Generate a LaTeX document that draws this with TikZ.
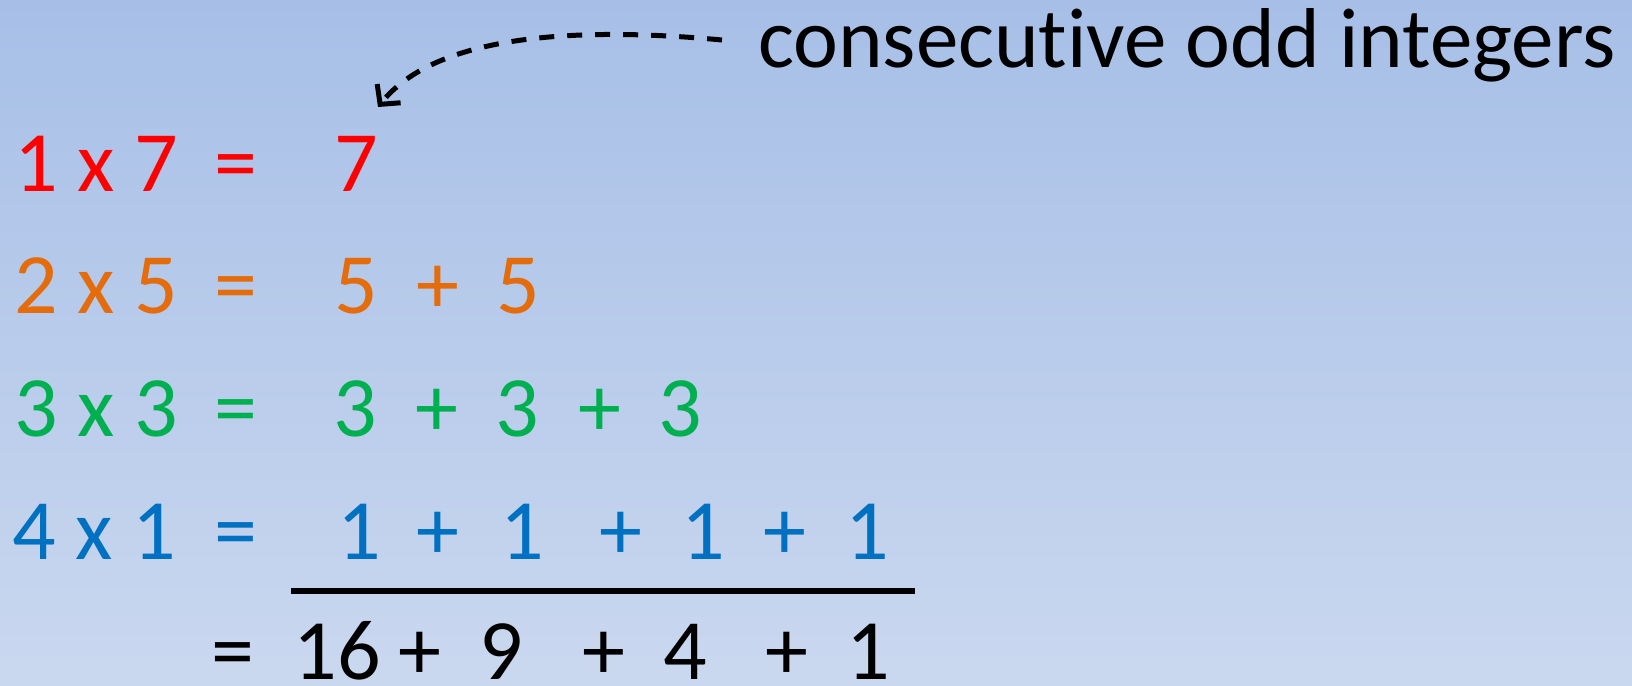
\documentclass[tikz,border=0pt]{standalone}
\usepackage{fontspec}
\setmainfont{Carlito}[Ligatures=NoCommon]
\usepackage{tikz}
\usetikzlibrary{arrows.meta}
\definecolor{rowred}{RGB}{255,0,0}
\definecolor{roworange}{RGB}{228,108,10}
\definecolor{rowgreen}{RGB}{0,176,80}
\definecolor{rowblue}{RGB}{0,112,192}
\definecolor{slidetop}{RGB}{167,191,231}
\definecolor{slidebottom}{RGB}{202,216,239}
\tikzstyle{term} = [inner sep=0pt, anchor=base, font=\fontsize{43}{50}\selectfont]
\tikzstyle{note} = [inner sep=0pt, anchor=base east, font=\fontsize{42.5}{50}\selectfont]
\tikzstyle{arrow} = [line width=2.5pt, dash pattern=on 7.5pt off 6.5pt, -{Straight Barb[length=7pt,width=15pt]}]
\tikzstyle{sumline} = [line width=3.2pt]

\begin{document}
\begin{tikzpicture}[x=0.5pt, y=-0.5pt]
\shade[top color=slidetop, bottom color=slidebottom] (0,0) rectangle (1632,685);
\useasboundingbox (0,0) rectangle (1632,685);
% label and arrow
\node (label) [note] at (1616,67) {consecutive odd integers};
\coordinate (arrowstart) at (722,40);
\coordinate (arrowend) at (378,107);
\draw [arrow] (arrowstart) .. controls (550,24) and (430,42) .. (arrowend);
% row 1
\node (lhsa) [term, rowred] at (96,191) {1 x 7};
\node (eqa) [term, rowred] at (236,191) {=};
\node (a1) [term, rowred] at (356,191) {7};
% row 2
\node (lhsb) [term, roworange] at (96,313) {2 x 5};
\node (eqb) [term, roworange] at (236,313) {=};
\node (b1) [term, roworange] at (356,313) {5};
\node (bp1) [term, roworange] at (438,313) {+};
\node (b2) [term, roworange] at (518,313) {5};
% row 3
\node (lhsc) [term, rowgreen] at (96,436) {3 x 3};
\node (eqc) [term, rowgreen] at (236,436) {=};
\node (c1) [term, rowgreen] at (355,436) {3};
\node (cp1) [term, rowgreen] at (437,436) {+};
\node (c2) [term, rowgreen] at (517,436) {3};
\node (cp2) [term, rowgreen] at (600,436) {+};
\node (c3) [term, rowgreen] at (680,436) {3};
% row 4
\node (lhsd) [term, rowblue] at (94,559) {4 x 1};
\node (eqd) [term, rowblue] at (236,559) {=};
\node (d1) [term, rowblue] at (359,559) {1};
\node (dp1) [term, rowblue] at (438,559) {+};
\node (d2) [term, rowblue] at (522,559) {1};
\node (dp2) [term, rowblue] at (621,559) {+};
\node (d3) [term, rowblue] at (703,559) {1};
\node (dp3) [term, rowblue] at (785,559) {+};
\node (d4) [term, rowblue] at (867,559) {1};
% sum
\coordinate (linestart) at (291,591);
\coordinate (lineend) at (915,591);
\draw [sumline] (linestart) -- (lineend);
\node (eqe) [term] at (233,679) {=};
\node (e1) [term] at (337,679) {16};
\node (ep1) [term] at (420,679) {+};
\node (e2) [term] at (501,679) {9};
\node (ep2) [term] at (604,679) {+};
\node (e3) [term] at (685,679) {4};
\node (ep3) [term] at (787,679) {+};
\node (e4) [term] at (868,679) {1};
\end{tikzpicture}
\end{document}
